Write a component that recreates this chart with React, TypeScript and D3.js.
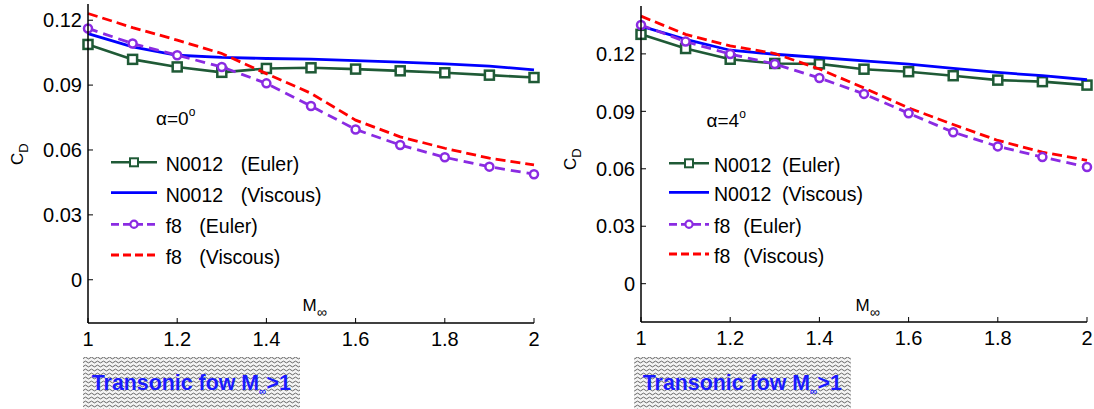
import React from "react";
import * as d3 from "d3";

const mach = [1.0, 1.1, 1.2, 1.3, 1.4, 1.5, 1.6, 1.7, 1.8, 1.9, 2.0];

// alpha = 0 deg
const n0012EulerA0 = [0.1088, 0.1019, 0.0984, 0.0959, 0.0977, 0.098, 0.0974, 0.0966, 0.0957, 0.0946, 0.0935];
const n0012ViscousA0 = [0.1138, 0.1077, 0.1038, 0.1028, 0.1023, 0.102, 0.1013, 0.1006, 0.0998, 0.0988, 0.097];
const f8EulerA0 = [0.1162, 0.1092, 0.1038, 0.0984, 0.0908, 0.0803, 0.0695, 0.0623, 0.0566, 0.0523, 0.0488];
const f8ViscousA0 = [0.1231, 0.1166, 0.1108, 0.1046, 0.0953, 0.0862, 0.0738, 0.0661, 0.0608, 0.0562, 0.0531];

// alpha = 4 deg
const n0012EulerA4 = [0.1302, 0.1228, 0.1172, 0.115, 0.1148, 0.112, 0.1107, 0.1086, 0.1063, 0.1055, 0.1037];
const n0012ViscousA4 = [0.1345, 0.1276, 0.1219, 0.1198, 0.1181, 0.1164, 0.1147, 0.1124, 0.1103, 0.1086, 0.1065];
const f8EulerA4 = [0.1351, 0.1264, 0.1199, 0.1147, 0.1074, 0.0991, 0.089, 0.0791, 0.0717, 0.0661, 0.0609];
const f8ViscousA4 = [0.1397, 0.1302, 0.1242, 0.1202, 0.1121, 0.1022, 0.0918, 0.0831, 0.0748, 0.0687, 0.0644];

const xTicks = [1, 1.2, 1.4, 1.6, 1.8, 2];
const xTickLabels = ["1", "1.2", "1.4", "1.6", "1.8", "2"];
const yTicks = [0, 0.03, 0.06, 0.09, 0.12];
const yTickLabels = ["0", "0.03", "0.06", "0.09", "0.12"];

const seriesNames = ["N0012", "N0012", "f8", "f8"];
const seriesKinds = ["(Euler)", "(Viscous)", "(Euler)", "(Viscous)"];
const alphaLabels = ["0", "4"];
const bannerText = "Transonic fow M";

const GREEN = "#1f5a36";
const BLUE = "#0000ff";
const PURPLE = "#8a2be2";
const RED = "#ff0000";
const FONT = "'Liberation Sans', Arial, sans-serif";

type PanelProps = {
  x0: number;
  x1: number;
  yTop: number;
  yBottom: number;
  yDomain: [number, number];
  data: number[][];
  alpha: string;
  alphaPos: [number, number];
  legendX: [number, number];
  legendRows: number[];
  legendTextX: number;
  parenX: [number, number];
  cdPos: [number, number];
  mPos: [number, number];
  bannerX: number;
};

function Panel(p: PanelProps) {
  const x = d3.scaleLinear().domain([1, 2]).range([p.x0, p.x1]);
  const y = d3.scaleLinear().domain(p.yDomain).range([p.yBottom, p.yTop]);
  const line = d3
    .line<number>()
    .x((_, i) => x(mach[i]))
    .y((d) => y(d));
  const styles = [
    { color: GREEN, dash: undefined as string | undefined, marker: "square", w: 2.6 },
    { color: BLUE, dash: undefined, marker: "none", w: 2.8 },
    { color: PURPLE, dash: "10,6", marker: "circle", w: 2.8 },
    { color: RED, dash: "10,5", marker: "none", w: 2.8 },
  ];
  const order = [0, 1, 3, 2];
  const lxMid = (p.legendX[0] + p.legendX[1]) / 2;
  return (
    <g>
      {order.map((si) => {
        const s = styles[si];
        return (
          <g key={si}>
            <path d={line(p.data[si]) || ""} fill="none" stroke={s.color} strokeWidth={s.w} strokeDasharray={s.dash} />
            {s.marker === "square" &&
              p.data[si].map((v, i) => (
                <rect key={i} x={x(mach[i]) - 4.5} y={y(v) - 4.5} width={9} height={9} fill="#fff" stroke={s.color} strokeWidth={2.5} />
              ))}
            {s.marker === "circle" &&
              p.data[si].map((v, i) => (
                <circle key={i} cx={x(mach[i])} cy={y(v)} r={4} fill="#fff" stroke={s.color} strokeWidth={2.5} />
              ))}
          </g>
        );
      })}
      <line x1={p.x0} x2={p.x0} y1={p.yTop} y2={p.yBottom} stroke="#000" strokeWidth={1.5} />
      <line x1={p.x0} x2={p.x1} y1={p.yBottom} y2={p.yBottom} stroke="#000" strokeWidth={1.5} />
      {yTicks.map((t, i) => (
        <g key={"y" + i}>
          <line x1={p.x0} x2={p.x0 + 5} y1={y(t)} y2={y(t)} stroke="#000" strokeWidth={1} />
          <text x={p.x0 - 6} y={y(t)} dy="0.36em" textAnchor="end" fontSize={20} fontFamily={FONT} fill="#000">
            {yTickLabels[i]}
          </text>
        </g>
      ))}
      {xTicks.map((t, i) => (
        <g key={"x" + i}>
          <line x1={x(t)} x2={x(t)} y1={p.yBottom} y2={p.yBottom - 5} stroke="#000" strokeWidth={1} />
          <text x={x(t)} y={p.yBottom + 23} textAnchor="middle" fontSize={20} fontFamily={FONT} fill="#000">
            {xTickLabels[i]}
          </text>
        </g>
      ))}
      <text transform={`translate(${p.cdPos[0]},${p.cdPos[1]}) rotate(-90)`} fontSize={17} fontFamily={FONT} fill="#000">
        C<tspan fontSize={13} dy={5}>D</tspan>
      </text>
      <text x={p.mPos[0]} y={p.mPos[1]} fontSize={17} fontFamily={FONT} fill="#000">
        M<tspan fontSize={14} dy={6}>∞</tspan>
      </text>
      <text x={p.alphaPos[0]} y={p.alphaPos[1]} fontSize={19} fontFamily={FONT} fill="#000">
        α={p.alpha}
        <tspan fontSize={12} dy={-9}>o</tspan>
      </text>
      {[0, 1, 2, 3].map((si) => {
        const s = styles[si];
        const ly = p.legendRows[si];
        return (
          <g key={"l" + si}>
            <line x1={p.legendX[0]} x2={p.legendX[1]} y1={ly} y2={ly} stroke={s.color} strokeWidth={s.w} strokeDasharray={s.dash ? "8,4" : undefined} />
            {s.marker === "square" && <rect x={lxMid - 4} y={ly - 4} width={8} height={8} fill="#fff" stroke={s.color} strokeWidth={2} />}
            {s.marker === "circle" && <circle cx={lxMid} cy={ly} r={3.6} fill="#fff" stroke={s.color} strokeWidth={2.2} />}
            <text x={p.legendTextX} y={ly + 9} fontSize={19.5} fontFamily={FONT} fill="#000">
              {seriesNames[si]}
            </text>
            <text x={si < 2 ? p.parenX[0] : p.parenX[1]} y={ly + 9} fontSize={19.5} fontFamily={FONT} fill="#000">
              {seriesKinds[si]}
            </text>
          </g>
        );
      })}
      <rect x={p.bannerX} y={357} width={217} height={52} fill="url(#wavy)" />
      <text
        transform={`translate(${p.bannerX + 8.7},390) scale(0.93,1)`}
        fontSize={23}
        fontWeight="bold"
        fontFamily={FONT}
        fill="#1a1aff"
      >
        {bannerText}
        <tspan fontSize={11} dy={5}>∞</tspan>
        <tspan dy={-5}>{">1"}</tspan>
      </text>
    </g>
  );
}

export default function App() {
  return (
    <svg width={1094} height={409} style={{ position: "absolute", left: 0, top: 0, background: "#fff" }}>
      <defs>
        <pattern id="wavy" width={6} height={4} patternUnits="userSpaceOnUse">
          <rect width={6} height={4} fill="#f4f4f4" />
          <path d="M0,2 Q1.5,0.2 3,2 T6,2" fill="none" stroke="#555" strokeWidth={0.9} />
        </pattern>
      </defs>
      <rect width={1094} height={409} fill="#fff" />
      <Panel
        x0={88}
        x1={534}
        yTop={4}
        yBottom={323}
        yDomain={[-0.02, 0.1275]}
        data={[n0012EulerA0, n0012ViscousA0, f8EulerA0, f8ViscousA0]}
        alpha={alphaLabels[0]}
        alphaPos={[156, 124.5]}
        legendX={[111, 157]}
        legendRows={[162.3, 192.7, 224.3, 255]}
        legendTextX={165.7}
        parenX={[240.7, 199.3]}
        cdPos={[23, 165]}
        mPos={[302.5, 311]}
        bannerX={83}
      />
      <Panel
        x0={641}
        x1={1087}
        yTop={6}
        yBottom={322}
        yDomain={[-0.02, 0.145]}
        data={[n0012EulerA4, n0012ViscousA4, f8EulerA4, f8ViscousA4]}
        alpha={alphaLabels[1]}
        alphaPos={[706.5, 126.7]}
        legendX={[669, 709]}
        legendRows={[163.3, 192.3, 224.3, 254]}
        legendTextX={714}
        parenX={[782, 743.3]}
        cdPos={[576, 170]}
        mPos={[855.5, 311]}
        bannerX={634}
      />
    </svg>
  );
}
